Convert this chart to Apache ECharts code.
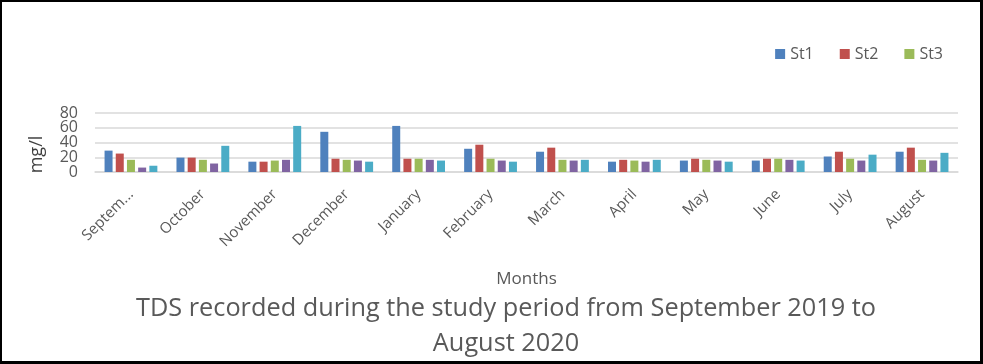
<!DOCTYPE html>
<html>
<head>
<meta charset="utf-8">
<script src="https://cdn.jsdelivr.net/npm/echarts@6/dist/echarts.min.js"></script>
<style>
html,body{margin:0;padding:0;background:#fff;}
#frame{position:absolute;left:0;top:0;width:983px;height:364px;box-sizing:border-box;border-style:solid;border-color:#000;border-width:2px 3px 3px 2px;}
#chart{position:absolute;left:0;top:0;width:983px;height:364px;}
</style>
</head>
<body>
<div id="chart"></div>
<div id="frame"></div>
<script>
const categories = ['Septem...', 'October', 'November', 'December', 'January', 'February', 'March', 'April', 'May', 'June', 'July', 'August'];
const st1 = [29, 19.5, 14, 54.5, 62.5, 31.5, 27.5, 14, 15.5, 15.5, 21, 27.5];
const st2 = [25, 19.5, 14, 18, 18, 37, 33, 16.5, 18, 18, 27.5, 33];
const st3 = [16.5, 16.5, 15.5, 16.5, 18, 18, 16.5, 15.5, 16.5, 18, 18, 16.5];
const st4 = [6, 11.5, 16.5, 15.5, 16.5, 15.5, 15.5, 14, 15.5, 16.5, 15.5, 15.5];
const st5 = [8.5, 35.5, 62.5, 14, 15.5, 14, 16.5, 16.5, 14, 15.5, 23.5, 26];
const yTicks = [0, 20, 40, 60, 80];
const yInner = [20, 40, 60];
const yEnds = [0, 80];

const FONT = 'Open Sans';
const chart = echarts.init(document.getElementById('chart'), null, {renderer: 'canvas'});
const colors = ['#4F81BD', '#C0504D', '#9BBB59', '#8064A2', '#4BACC6'];
const mk = (name, data, i) => ({
  name: name, type: 'bar', data: data, barWidth: 8, barGap: '40%', barCategoryGap: '26%',
  yAxisIndex: 0, itemStyle: {color: colors[i]}
});
const labelBase = {margin: 17, fontFamily: FONT, fontSize: 16, color: '#595959'};
chart.setOption({
  animation: false,
  textStyle: {fontFamily: FONT},
  graphic: [{
    type: 'text', x: 506, y: 291,
    style: {
      text: 'TDS recorded during the study period from September 2019 to\nAugust 2020',
      align: 'center', verticalAlign: 'top', fontFamily: FONT, fontSize: 25.3, fill: '#595959', lineHeight: 35
    }
  }],
  legend: {
    data: ['St1', 'St2', 'St3'],
    right: 35, top: 41,
    itemWidth: 10, itemHeight: 10, itemGap: 26, icon: 'rect',
    textStyle: {fontFamily: FONT, fontSize: 16, color: '#595959'}
  },
  grid: {left: 95, right: 25, top: 113, bottom: 192, containLabel: false},
  xAxis: {
    type: 'category', data: categories,
    name: 'Months', nameLocation: 'middle', nameGap: 99,
    nameTextStyle: {fontFamily: FONT, fontSize: 17, color: '#595959'},
    axisLine: {lineStyle: {color: '#d9d9d9', width: 1.5}},
    axisTick: {show: false},
    axisLabel: {rotate: 45, interval: 0, margin: 20, fontFamily: FONT, fontSize: 15, color: '#595959'}
  },
  yAxis: [{
    type: 'value', min: 0, max: 80, interval: 20, position: 'left',
    name: 'mg/l', nameLocation: 'middle', nameGap: 49, nameRotate: 90,
    nameTextStyle: {fontFamily: FONT, fontSize: 18, color: '#404040', padding: [0, 0, 0, -24]},
    axisLine: {show: false}, axisTick: {show: false},
    axisLabel: Object.assign({}, labelBase, {showMinLabel: false, showMaxLabel: false,
      formatter: v => yInner.includes(v) ? String(v) : ''}),
    splitLine: {lineStyle: {color: '#d9d9d9', width: 1.5}}
  }, {
    type: 'value', min: 0, max: 80, interval: 20, position: 'left', offset: 0,
    axisLine: {show: false}, axisTick: {show: false}, splitLine: {show: false},
    axisLabel: Object.assign({}, labelBase, {showMinLabel: true, showMaxLabel: true,
      formatter: v => yEnds.includes(v) ? String(v) : ''})
  }],
  series: [mk('St1', st1, 0), mk('St2', st2, 1), mk('St3', st3, 2), mk('St4', st4, 3), mk('St5', st5, 4)]
});
</script>
</body>
</html>
